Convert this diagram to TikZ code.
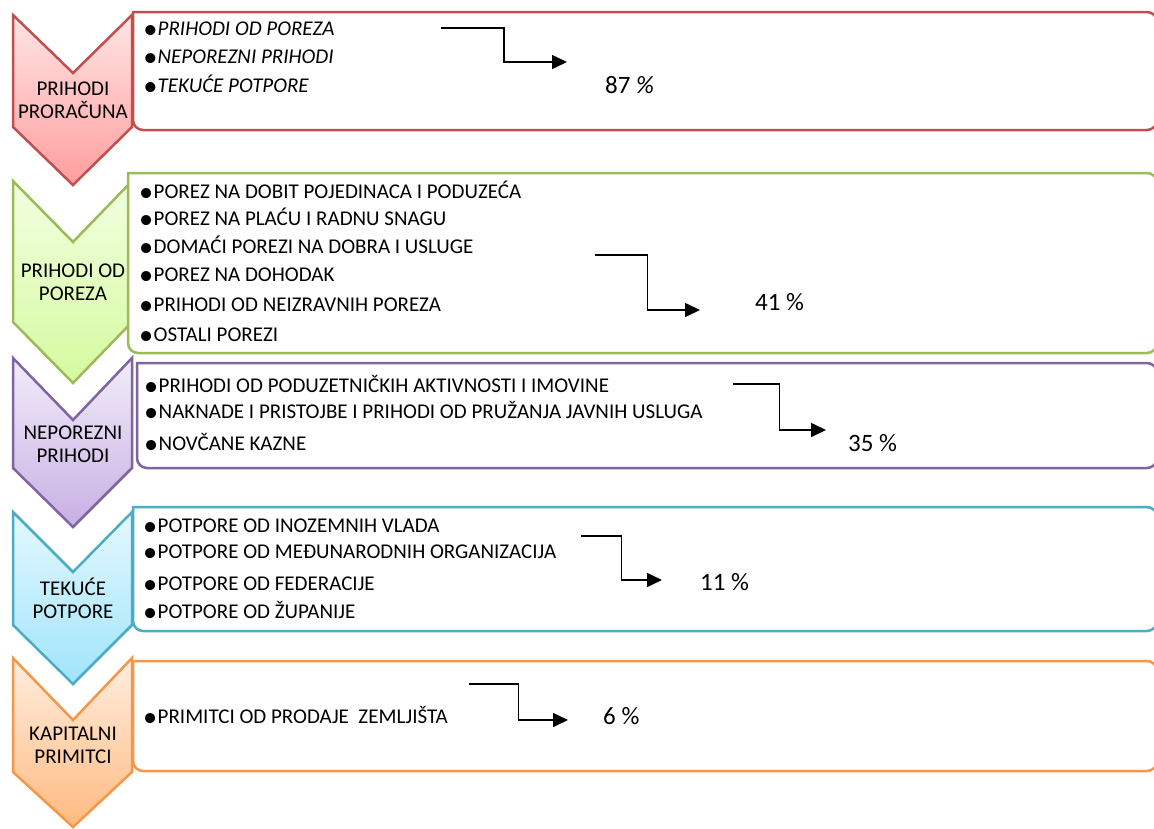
\documentclass[tikz,border=0pt]{standalone}
\usepackage{fontspec}
\setmainfont{Carlito}
\usepackage{tikz}
\usetikzlibrary{calc, arrows.meta}

\definecolor{redline}{HTML}{C0504D}
\definecolor{redtop}{RGB}{255,228,228}
\definecolor{redbot}{RGB}{255,158,158}
\definecolor{greenline}{HTML}{9BBB59}
\definecolor{greentop}{RGB}{242,255,224}
\definecolor{greenbot}{RGB}{214,250,160}
\definecolor{violetline}{HTML}{8064A2}
\definecolor{violettop}{RGB}{242,236,250}
\definecolor{violetbot}{RGB}{200,176,228}
\definecolor{blueline}{HTML}{4BACC6}
\definecolor{bluetop}{RGB}{228,248,255}
\definecolor{bluebot}{RGB}{160,228,250}
\definecolor{orangeline}{HTML}{F79646}
\definecolor{orangetop}{RGB}{255,238,224}
\definecolor{orangebot}{RGB}{255,186,128}

\newcommand{\blt}{\makebox[14.5pt][l]{\raisebox{-3pt}{\scalebox{1.35}{•}}}}

\begin{document}
\begin{tikzpicture}[x=1pt, y=-1pt,
        every node/.style={font=\fontsize{21}{23}\selectfont, inner sep=0pt},
        chev/.style={line width=2.5pt, line join=miter},
        listbox/.style={line width=2.5pt, fill=white},
        item/.style={anchor=base west},
        chevtext/.style={align=center},
        pct/.style={anchor=base west, font=\fontsize{25}{27}\selectfont},
        elbow/.style={line width=1.6pt, -{Triangle[length=15pt, width=14pt]}}]
        \useasboundingbox (0,0) rectangle (1154,828);

        % chevrons
        \draw[chev, draw=redline, top color=redtop, bottom color=redbot]
            (13,15) -- (73,73) -- (132,15) -- (132,127) -- (73,185) -- (13,127) -- cycle;
        \draw[chev, draw=greenline, top color=greentop, bottom color=greenbot]
            (13,181) -- (73,242) -- (132,181) -- (132,322) -- (73,383) -- (13,322) -- cycle;
        \draw[chev, draw=violetline, top color=violettop, bottom color=violetbot]
            (13,358) -- (73,420) -- (132,358) -- (132,468) -- (73,527) -- (13,468) -- cycle;
        \draw[chev, draw=blueline, top color=bluetop, bottom color=bluebot]
            (13,512) -- (73,572) -- (132,512) -- (132,625) -- (73,684) -- (13,625) -- cycle;
        \draw[chev, draw=orangeline, top color=orangetop, bottom color=orangebot]
            (13,658) -- (73,720) -- (132,658) -- (132,772) -- (73,827) -- (13,772) -- cycle;

        \node[chevtext] (c1) at (73,100) {PRIHODI\\PRORAČUNA};
        \node[chevtext] (c2) at (73,282) {PRIHODI OD\\POREZA};
        \node[chevtext] (c3) at (73,444) {NEPOREZNI\\PRIHODI};
        \node[chevtext] (c4) at (73,598) {TEKUĆE\\POTPORE};
        \node[chevtext] (c5) at (73,745) {KAPITALNI\\PRIMITCI};

        % boxes, square on the left
        \draw[listbox, draw=redline] (133,130) -- (133,12)
            [rounded corners=10pt] -- (1157,12) -- (1157,130) -- cycle;
        \draw[listbox, draw=greenline] (128,353) -- (128,173)
            [rounded corners=10pt] -- (1157,173) -- (1157,353) -- cycle;
        \draw[listbox, draw=violetline] (137,468) -- (137,363)
            [rounded corners=10pt] -- (1157,363) -- (1157,468) -- cycle;
        \draw[listbox, draw=blueline] (133,631) -- (133,507)
            [rounded corners=10pt] -- (1157,507) -- (1157,631) -- cycle;
        \draw[listbox, draw=orangeline] (133,771) -- (133,661)
            [rounded corners=10pt] -- (1157,661) -- (1157,771) -- cycle;

        % items
        \node[item, font=\fontsize{21}{23}\selectfont\itshape] (p11) at (143,35) {\blt PRIHODI OD POREZA};
        \node[item, font=\fontsize{21}{23}\selectfont\itshape] (p12) at (143,63) {\blt NEPOREZNI PRIHODI};
        \node[item, font=\fontsize{21}{23}\selectfont\itshape] (p13) at (143,92) {\blt TEKUĆE POTPORE};

        \node[item] (p21) at (139,198) {\blt POREZ NA DOBIT POJEDINACA I PODUZEĆA};
        \node[item] (p22) at (139,225) {\blt POREZ NA PLAĆU I RADNU SNAGU};
        \node[item] (p23) at (139,253) {\blt DOMAĆI POREZI NA DOBRA I USLUGE};
        \node[item] (p24) at (139,281) {\blt POREZ NA DOHODAK};
        \node[item] (p25) at (139,311) {\blt PRIHODI OD NEIZRAVNIH POREZA};
        \node[item] (p26) at (139,341) {\blt OSTALI POREZI};

        \node[item] (p31) at (144,392) {\blt PRIHODI OD PODUZETNIČKIH AKTIVNOSTI I IMOVINE};
        \node[item] (p32) at (144,418) {\blt NAKNADE I PRISTOJBE I PRIHODI OD PRUŽANJA JAVNIH USLUGA};
        \node[item] (p33) at (144,450) {\blt NOVČANE KAZNE};

        \node[item] (p41) at (143,532) {\blt POTPORE OD INOZEMNIH VLADA};
        \node[item] (p42) at (143,558) {\blt POTPORE OD MEĐUNARODNIH ORGANIZACIJA};
        \node[item] (p43) at (143,590) {\blt POTPORE OD FEDERACIJE};
        \node[item] (p44) at (143,618) {\blt POTPORE OD ŽUPANIJE};

        \node[item] (p51) at (143,723) {\blt PRIMITCI OD PRODAJE\ \ ZEMLJIŠTA};

        % shares
        \node[pct] (s1) at (605,93) {87 \textit{\%}};
        \node[pct] (s2) at (755,310) {41 \%};
        \node[pct] (s3) at (848,451) {35 \%};
        \node[pct] (s4) at (700,590) {11 \%};
        \node[pct] (s5) at (603,724) {6 \%};

        % elbow arrows
        \coordinate (a1) at (441,28);  \coordinate (b1) at (567,62);
        \coordinate (a2) at (595,255); \coordinate (b2) at (700,310);
        \coordinate (a3) at (733,384); \coordinate (b3) at (826,430);
        \coordinate (a4) at (581,536); \coordinate (b4) at (662,580);
        \coordinate (a5) at (469,684); \coordinate (b5) at (568,720);
        \draw[elbow] (a1) -| ($(a1)!.5!(b1)$) |- (b1);
        \draw[elbow] (a2) -| ($(a2)!.5!(b2)$) |- (b2);
        \draw[elbow] (a3) -| ($(a3)!.5!(b3)$) |- (b3);
        \draw[elbow] (a4) -| ($(a4)!.5!(b4)$) |- (b4);
        \draw[elbow] (a5) -| ($(a5)!.5!(b5)$) |- (b5);
\end{tikzpicture}
\end{document}
